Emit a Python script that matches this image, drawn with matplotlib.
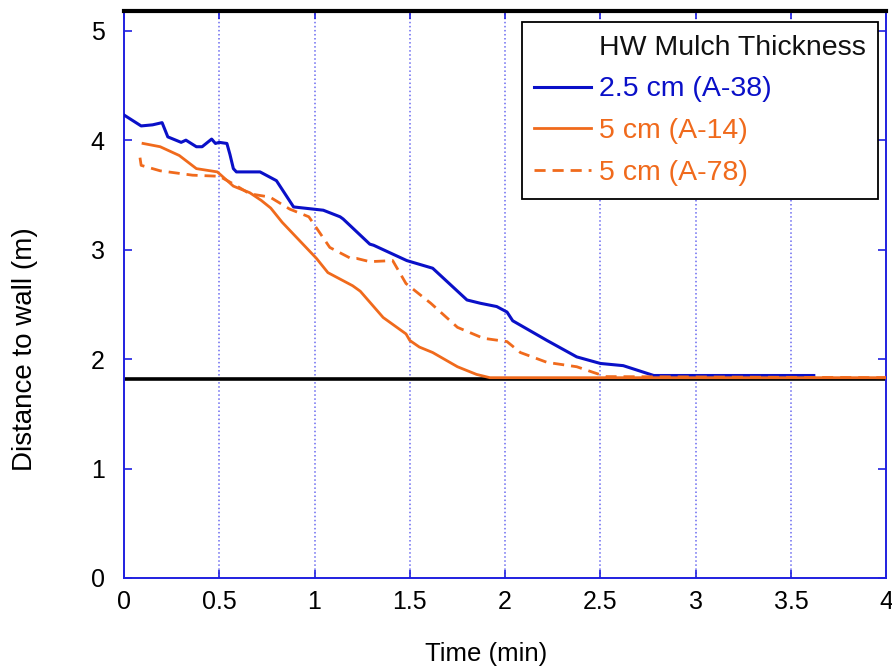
import numpy as np
import matplotlib
matplotlib.use("Agg")
import matplotlib.pyplot as plt
from matplotlib.lines import Line2D

plt.rcParams['font.family'] = ['Liberation Sans', 'DejaVu Sans']

# A-38, 2.5 cm mulch
blue_t = [0, 0.09, 0.15, 0.20, 0.23, 0.30, 0.325, 0.38, 0.41, 0.46, 0.48, 0.50,
          0.54, 0.556, 0.574, 0.59, 0.714, 0.80, 0.89, 0.994, 1.046, 1.134, 1.15,
          1.29, 1.31, 1.484, 1.62, 1.80, 1.87, 1.956, 2.01, 2.04, 2.13, 2.22,
          2.376, 2.50, 2.62, 2.78, 3.62]
blue_d = [4.23, 4.13, 4.14, 4.16, 4.03, 3.98, 4.00, 3.94, 3.94, 4.01, 3.97, 3.98,
          3.97, 3.87, 3.74, 3.71, 3.71, 3.63, 3.39, 3.37, 3.36, 3.30, 3.28,
          3.05, 3.04, 2.90, 2.83, 2.54, 2.51, 2.48, 2.43, 2.35, 2.26, 2.17,
          2.02, 1.96, 1.94, 1.85, 1.85]

# A-14, 5 cm mulch
orange_t = [0.10, 0.19, 0.29, 0.38, 0.49, 0.574, 0.66, 0.72, 0.77, 0.83, 0.89,
            0.95, 1.01, 1.07, 1.20, 1.24, 1.36, 1.48, 1.50, 1.55, 1.62, 1.75,
            1.85, 1.92, 4.0]
orange_d = [3.97, 3.94, 3.86, 3.74, 3.71, 3.58, 3.52, 3.45, 3.38, 3.25, 3.14,
            3.03, 2.92, 2.79, 2.67, 2.62, 2.38, 2.23, 2.17, 2.11, 2.06, 1.93,
            1.86, 1.83, 1.83]

# A-78, 5 cm mulch
dash_t = [0.084, 0.09, 0.19, 0.36, 0.50, 0.574, 0.66, 0.766, 0.87, 0.97, 1.08,
          1.19, 1.22, 1.29, 1.41, 1.48, 1.61, 1.75, 1.886, 2.01, 2.08, 2.22,
          2.376, 2.46, 2.53, 4.0]
dash_d = [3.84, 3.77, 3.72, 3.68, 3.67, 3.60, 3.51, 3.48, 3.37, 3.30, 3.02,
          2.92, 2.92, 2.89, 2.90, 2.69, 2.51, 2.29, 2.19, 2.16, 2.06, 1.97,
          1.93, 1.88, 1.84, 1.83]

wall_d = 1.82
x_ticks = [0, 0.5, 1, 1.5, 2, 2.5, 3, 3.5, 4]
x_labels = ['0', '0.5', '1', '1.5', '2', '2.5', '3', '3.5', '4']
y_ticks = [0, 1, 2, 3, 4, 5]

blue = '#0a10c8'
orange = '#f06a1c'
spine_blue = '#2020e0'

fig = plt.figure(figsize=(8.92, 6.71), dpi=100)
ax = fig.add_axes([0.139, 0.1386, 0.8545, 0.845])

# vertical dotted grid
for xv in x_ticks[1:-1]:
    ax.axvline(xv, color='#6a6af0', linestyle=':', linewidth=1.1, zorder=1)

ax.axhline(wall_d, color='black', linewidth=2.6, zorder=2)
b_line, = ax.plot(blue_t, blue_d, color=blue, linewidth=2.2, zorder=3)
d_line, = ax.plot(dash_t, dash_d, color=orange, linewidth=2.0,
                  linestyle=(0, (4, 2.5)), zorder=4)
o_line, = ax.plot(orange_t, orange_d, color=orange, linewidth=2.0, zorder=5)

ax.set_xlim(0, 4)
ax.set_ylim(0, 5.18)
ax.set_xticks(x_ticks)
ax.set_xticklabels(x_labels)
ax.set_yticks(y_ticks)

ax.tick_params(axis='both', direction='in', length=6, width=1.2,
               color=spine_blue, labelsize=18, top=True, right=True)
ax.tick_params(axis='x', pad=9)
ax.tick_params(axis='y', pad=14)

for side in ['left', 'bottom', 'right']:
    ax.spines[side].set_color(spine_blue)
    ax.spines[side].set_linewidth(1.4)
ax.spines['top'].set_color('black')
ax.spines['top'].set_linewidth(3)

ax.set_xlabel('Time (min)', fontsize=18.5)
ax.xaxis.set_label_coords(0.475, -0.113)
ax.set_ylabel('Distance to wall (m)', fontsize=20)
ax.yaxis.set_label_coords(-0.113, 0.404)

title_handle = Line2D([], [], color='none')
leg = ax.legend([title_handle, b_line, o_line, d_line],
                ['HW Mulch Thickness', '2.5 cm (A-38)', '5 cm (A-14)', '5 cm (A-78)'],
                loc='upper right', bbox_to_anchor=(0.9895, 0.9806),
                borderaxespad=0, fontsize=20.5, handlelength=2.0,
                handletextpad=0.25, labelspacing=0.55, borderpad=0.45,
                fancybox=False, framealpha=1, edgecolor='black')
leg.get_frame().set_linewidth(1.3)
for txt, col in zip(leg.get_texts(), ['#111111', blue, orange, orange]):
    txt.set_color(col)

fig.savefig('out.png', dpi=100)
